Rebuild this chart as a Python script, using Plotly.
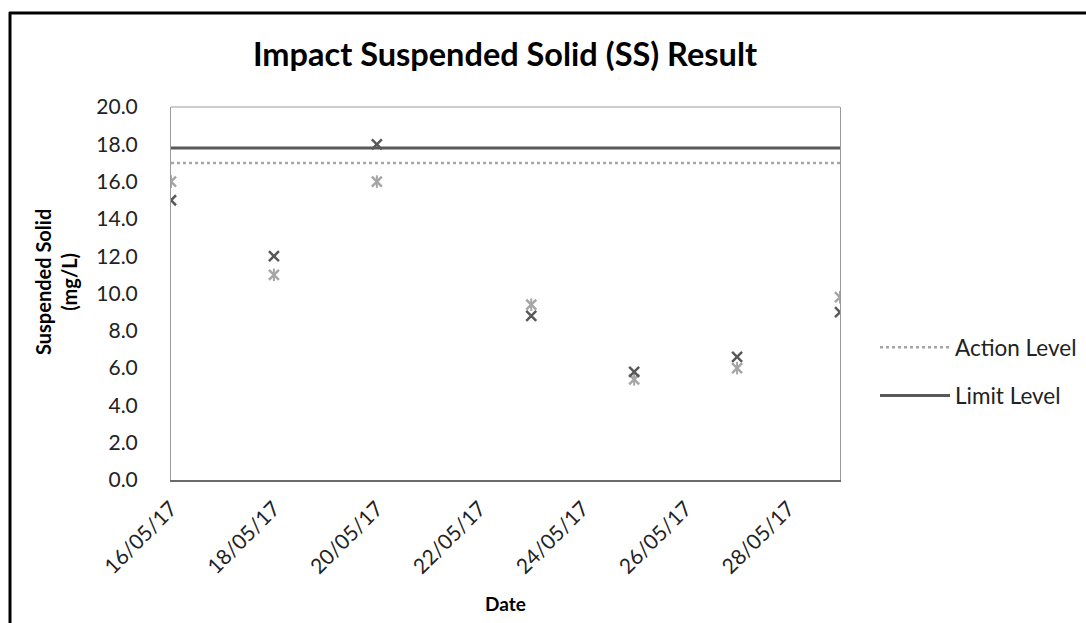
import plotly.graph_objects as go

dates = ["2017-05-16", "2017-05-18", "2017-05-20", "2017-05-23", "2017-05-25", "2017-05-27", "2017-05-29"]
ss_dark = [15.0, 12.0, 18.0, 8.8, 5.8, 6.6, 9.0]
ss_light = [16.0, 11.0, 16.0, 9.4, 5.4, 6.0, 9.8]
action_level = 17.0
limit_level = 17.8
tick_dates = ["2017-05-16", "2017-05-18", "2017-05-20", "2017-05-22", "2017-05-24", "2017-05-26", "2017-05-28"]
tick_labels = ["16/05/17", "18/05/17", "20/05/17", "22/05/17", "24/05/17", "26/05/17", "28/05/17"]
y_ticks = [0, 2, 4, 6, 8, 10, 12, 14, 16, 18, 20]

FONT = "Lato"
W, H = 1086, 623
L, R, T, B = 171, 246, 107, 143
pw, ph = W - L - R, H - T - B

def px_x(x):
    return (x - L) / pw

def px_y(y):
    return (H - B - y) / ph

LIGHT = "#a6a6a6"
DARK = "#595959"

fig = go.Figure()

fig.add_trace(go.Scatter(
    x=[dates[0], dates[-1]], y=[action_level, action_level], mode="lines",
    name="Action Level", legendgroup="a", line=dict(color=LIGHT, width=2.5, dash="dot"),
))
fig.add_trace(go.Scatter(
    x=[dates[0], dates[-1]], y=[limit_level, limit_level], mode="lines",
    name="Limit Level", legendgroup="b", line=dict(color=DARK, width=3),
))
fig.add_trace(go.Scatter(
    x=dates, y=ss_light, mode="markers", showlegend=False,
    marker=dict(symbol="x-thin-open", size=10, color=LIGHT, line=dict(color=LIGHT, width=2.5)),
))
fig.add_trace(go.Scatter(
    x=dates, y=ss_light, mode="markers", showlegend=False,
    marker=dict(symbol="line-ns-open", size=9, color=LIGHT, line=dict(color=LIGHT, width=2)),
))
fig.add_trace(go.Scatter(
    x=dates, y=ss_dark, mode="markers", showlegend=False,
    marker=dict(symbol="x-thin-open", size=10, color=DARK, line=dict(color=DARK, width=2.5)),
))

fig.update_layout(
    width=W, height=H,
    margin=dict(l=L, r=R, t=T, b=B, autoexpand=False),
    paper_bgcolor="white", plot_bgcolor="white",
    font=dict(family=FONT, color="#222222"),
    title=dict(text="<b>Impact Suspended Solid (SS) Result</b>", x=px_x(505), xref="paper",
               xanchor="center", y=1 - 55 / H, yanchor="middle",
               font=dict(size=32.5, family=FONT, color="#000000")),
    legend=dict(x=px_x(875), y=px_y(326), xanchor="left", yanchor="top",
                font=dict(size=22.5, family=FONT, color="#222222"),
                itemwidth=70, tracegroupgap=16, traceorder="grouped",
                bgcolor="rgba(0,0,0,0)"),
    showlegend=True,
)

fig.update_xaxes(
    type="date", range=[dates[0], dates[-1]],
    tickvals=tick_dates, ticktext=tick_labels, tickangle=-45,
    tickfont=dict(size=21, family=FONT, color="#222222"),
    ticklabelstandoff=6,
    showgrid=False, zeroline=False,
    showline=True, linecolor="#6a6a6a", linewidth=2, ticks="",
    title=dict(text="<b>Date</b>", font=dict(size=19, family=FONT, color="#000000"), standoff=21),
)
fig.update_yaxes(
    range=[0, 20], tickvals=y_ticks, tickformat=".1f",
    tickfont=dict(size=21, family=FONT, color="#222222"),
    ticklabelstandoff=28,
    showgrid=False, zeroline=False,
    showline=True, linecolor="#9a9a9a", linewidth=1, mirror=True, ticks="",
)

fig.add_annotation(
    text="<b>Suspended Solid<br>(mg/L)</b>", textangle=-90, showarrow=False,
    xref="paper", yref="paper", x=px_x(56), y=px_y(282),
    xanchor="center", yanchor="middle",
    font=dict(size=20, family=FONT, color="#000000"),
)

# top border of plot area
fig.add_shape(type="line", xref="paper", yref="paper", x0=0, x1=1, y0=1, y1=1,
              line=dict(color="#9a9a9a", width=1))
# outer chart frame (left and top edges visible)
fig.add_shape(type="line", xref="paper", yref="paper",
              x0=px_x(10), x1=px_x(10), y0=px_y(640), y1=px_y(12),
              line=dict(color="#000000", width=3))
fig.add_shape(type="line", xref="paper", yref="paper",
              x0=px_x(9), x1=px_x(1100), y0=px_y(13), y1=px_y(13),
              line=dict(color="#000000", width=3))

fig.write_html("out.html")
